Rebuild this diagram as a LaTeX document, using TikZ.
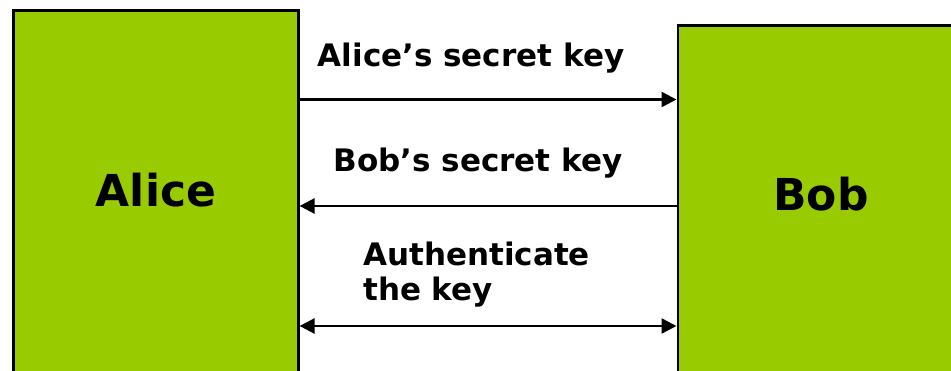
\documentclass[tikz,border=0pt]{standalone}
\usepackage{fontspec}
\setmainfont{DejaVu Sans}
\usepackage{xcolor}
\usetikzlibrary{arrows.meta,positioning,calc}

\definecolor{partyGreen}{RGB}{153,204,0}

\begin{document}
\begin{tikzpicture}[
    x=1pt, y=1pt,
    party/.style={rectangle, draw=black, fill=partyGreen, line width=2.6pt, anchor=north west, inner sep=0pt},
    partyname/.style={font=\fontsize{44}{50}\selectfont\bfseries, inner sep=0pt},
    msg/.style={font=\fontsize{31}{34.5}\selectfont\bfseries, inner sep=0pt, align=left},
    keyarrow/.style={{Triangle[length=15pt,width=15pt]}-{Triangle[length=15pt,width=15pt]}, line width=2.5pt, draw=black},
    sendarrow/.style={-{Triangle[length=15pt,width=15pt]}, line width=2.5pt, draw=black}
]
    \clip (0,0) rectangle (951,370);
    \useasboundingbox (0,0) rectangle (951,370);

    \node [party, minimum width=285pt, minimum height=370pt] (alice) at (12,361) {};
    \node [party, minimum width=300pt, minimum height=360pt] (bob) at (676.5,346) {};

    \node [partyname] (alicename) at (156,180) {Alice};
    \node [partyname] (bobname) at (821,176) {Bob};

    \coordinate (row1) at (0,270.5);
    \coordinate (row2) at (0,164);
    \coordinate (row3) at (0,44);

    \node [msg, anchor=base] (msg1) at (471,303) {Alice’s secret key};
    \node [msg, anchor=base] (msg2) at (478,198) {Bob’s secret key};
    \node [msg, anchor=north west] (msg3) at (363,128) {Authenticate\\the key};

    \draw [sendarrow] (alice.east |- row1) -- (bob.west |- row1);
    \draw [sendarrow] (bob.west |- row2) -- (alice.east |- row2);
    \draw [keyarrow] (alice.east |- row3) -- (bob.west |- row3);
\end{tikzpicture}
\end{document}
